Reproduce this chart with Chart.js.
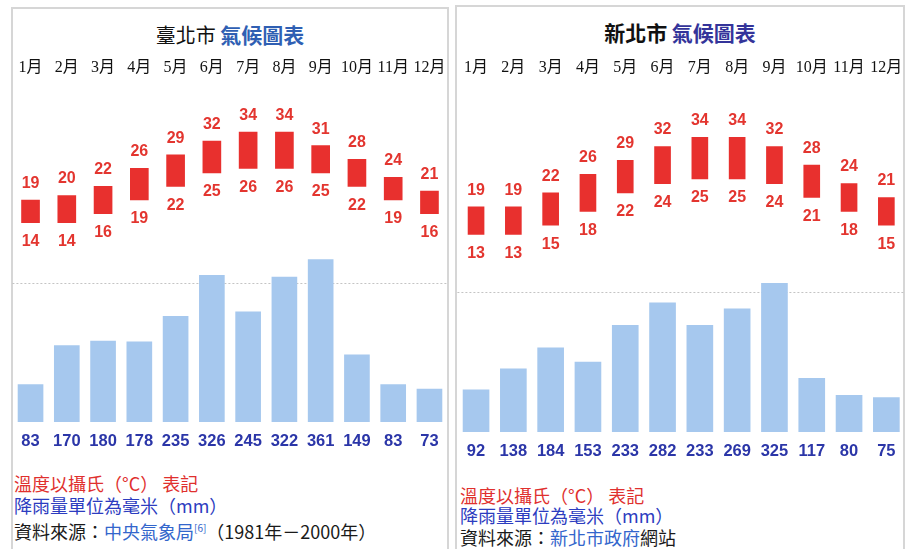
<!DOCTYPE html>
<html>
<head>
<meta charset="utf-8">
<script src="https://cdn.jsdelivr.net/npm/chart.js@4.4.1/dist/chart.umd.min.js"></script>
<style>
  body{margin:0;width:912px;height:549px;overflow:hidden;background:#fff;position:relative;font-family:"Noto Sans CJK TC","Noto Sans",sans-serif;}
  .panel{position:absolute;border:2px solid #d6d6d6;background:#fff;height:600px;box-sizing:border-box;}
  #p-tpe{left:11px;top:7px;width:438px;}
  #p-ntpc{left:455px;top:5px;width:450px;}
  .title{position:absolute;left:0;right:0;top:12px;text-align:center;font-size:20px;line-height:26px;color:#111;white-space:nowrap;}
  .title b{font-size:21px;}
  #p-tpe .title b{color:#2f5fb3;}
  #p-ntpc .title b{color:#34349a;}
  canvas{position:absolute;}
  .note{position:absolute;font-size:18px;line-height:22px;white-space:nowrap;}
  .red{color:#e0302e;}
  .blue{color:#2c3cc0;}
  .black{color:#1a1a1a;}
  .link{color:#3366cc;}
  sup{font-size:10px;}
</style>
</head>
<body>
<div class="panel" id="p-tpe">
  <div class="title">臺北市 <b>氣候圖表</b></div>
</div>
<div class="panel" id="p-ntpc">
  <div class="title"><b style="color:#111">新北市</b> <b>氣候圖表</b></div>
</div>

<canvas id="c-tpe" width="456" height="412" style="left:0;top:40px"></canvas>
<canvas id="c-ntpc" width="456" height="422" style="left:456px;top:40px"></canvas>

<div class="note red" style="left:14px;top:472px">溫度以攝氏（°C） 表記</div>
<div class="note blue" style="left:14px;top:494px">降雨量單位為毫米（mm）</div>
<div class="note black" style="left:14px;top:517px">資料來源：<span class="link">中央氣象局<sup>[6]</sup></span>（1981年－2000年）</div>

<div class="note red" style="left:460px;top:484px">溫度以攝氏（°C） 表記</div>
<div class="note blue" style="left:460px;top:504px">降雨量單位為毫米（mm）</div>
<div class="note black" style="left:460px;top:526px">資料來源：<span class="link">新北市政府</span>網站</div>

<script>
// ---- 데이터 ----
const MONTHS = ['1月','2月','3月','4月','5月','6月','7月','8月','9月','10月','11月','12月'];

// 臺北市
const TPE_MAX  = [19, 20, 22, 26, 29, 32, 34, 34, 31, 28, 24, 21];
const TPE_MIN  = [14, 14, 16, 19, 22, 25, 26, 26, 25, 22, 19, 16];
const TPE_RAIN = [83, 170, 180, 178, 235, 326, 245, 322, 361, 149, 83, 73];
const TPE_GUIDE = 308; // 점선 기준 (mm)

// 新北市
const NTPC_MAX  = [19, 19, 22, 26, 29, 32, 34, 34, 32, 28, 24, 21];
const NTPC_MIN  = [13, 13, 15, 18, 22, 24, 25, 25, 24, 21, 18, 15];
const NTPC_RAIN = [92, 138, 184, 153, 233, 282, 233, 269, 325, 117, 80, 75];
const NTPC_GUIDE = 306;

// ---- 스타일 ----
const RED = '#e8302e';
const RAIN_BLUE = '#a6c8ee';
const NUM_FONT = '"Liberation Sans", Arial, sans-serif';

// ---- 온도 라벨 + 점선 플러그인 ----
const climatePlugin = {
    id: 'climate',
    beforeDatasetsDraw(chart, args, opts){
        const {ctx, chartArea} = chart;
        const y = Math.round(chart.scales.yR.getPixelForValue(opts.guide)) + 0.5;
        ctx.save();
        ctx.strokeStyle = '#c4c4c4';
        ctx.lineWidth = 1;
        ctx.setLineDash([2, 2]);
        ctx.beginPath();
        ctx.moveTo(chartArea.left, y);
        ctx.lineTo(chartArea.right, y);
        ctx.stroke();
        ctx.restore();
    },
    afterDatasetsDraw(chart){
        const {ctx} = chart;
        const yT = chart.scales.yT;
        const meta = chart.getDatasetMeta(0);
        const data = chart.data.datasets[0].data;
        ctx.save();
        ctx.fillStyle = '#e3352f';
        ctx.font = 'bold 16px ' + NUM_FONT;
        ctx.textAlign = 'center';
        ctx.textBaseline = 'middle';
        meta.data.forEach((bar, i) => {
            const [lo, hi] = data[i];
            ctx.fillText(hi, bar.x, yT.getPixelForValue(hi) - 16.5);
            ctx.fillText(lo, bar.x, yT.getPixelForValue(lo) + 19);
        });
        ctx.restore();
    }
};

function makeClimate(id, tMin, tMax, rain, guide, o){
    const ctx = document.getElementById(id).getContext('2d');
    return new Chart(ctx, {
        type: 'bar',
        data: {
            labels: MONTHS,
            datasets: [
                {   // 최저~최고 기온 (floating bar)
                    data: tMin.map((v, i) => [v, tMax[i]]),
                    yAxisID: 'yT',
                    backgroundColor: RED,
                    barThickness: o.tBar,
                    grouped: false
                },
                {   // 강수량
                    data: rain,
                    yAxisID: 'yR',
                    backgroundColor: RAIN_BLUE,
                    barThickness: o.rBar,
                    grouped: false
                }
            ]
        },
        options: {
            responsive: false,
            animation: false,
            events: [],
            layout: { padding: { left: o.padL, right: o.padR, top: 0, bottom: 0 } },
            scales: {
                x: {
                    position: 'top',
                    offset: true,
                    grid: { display: false, drawTicks: false },
                    border: { display: false },
                    ticks: { color: '#111', padding: 3, autoSkip: false, maxRotation: 0,
                             font: { family: '"Liberation Serif","Noto Sans CJK TC",serif', size: 16 } },
                    afterFit: s => { s.height = 40; }
                },
                x2: {
                    type: 'category',
                    labels: rain.map(String),
                    position: 'bottom',
                    offset: true,
                    grid: { display: false, drawTicks: false },
                    border: { display: false },
                    ticks: { color: '#2b36a8', padding: 10, autoSkip: false, maxRotation: 0,
                             font: { family: NUM_FONT, size: 16.5, weight: 'bold' } },
                    afterFit: s => { s.height = 30; }
                },
                yT: { display: false, min: o.tLo, max: o.tHi },
                yR: { display: false, min: 0, max: o.rHi }
            },
            plugins: {
                legend: { display: false },
                tooltip: { enabled: false },
                climate: { guide }
            }
        },
        plugins: [climatePlugin]
    });
}

makeClimate('c-tpe', TPE_MIN, TPE_MAX, TPE_RAIN, TPE_GUIDE,
    { padL: 12.4, padR: 8.4, tLo: -30.0, tHi: 45.5, rHi: 760, tBar: 18, rBar: 25 });
makeClimate('c-ntpc', NTPC_MIN, NTPC_MAX, NTPC_RAIN, NTPC_GUIDE,
    { padL: 1.4, padR: 7, tLo: -29.65, tHi: 46.37, rHi: 769, tBar: 16, rBar: 26 });
</script>
</body>
</html>
